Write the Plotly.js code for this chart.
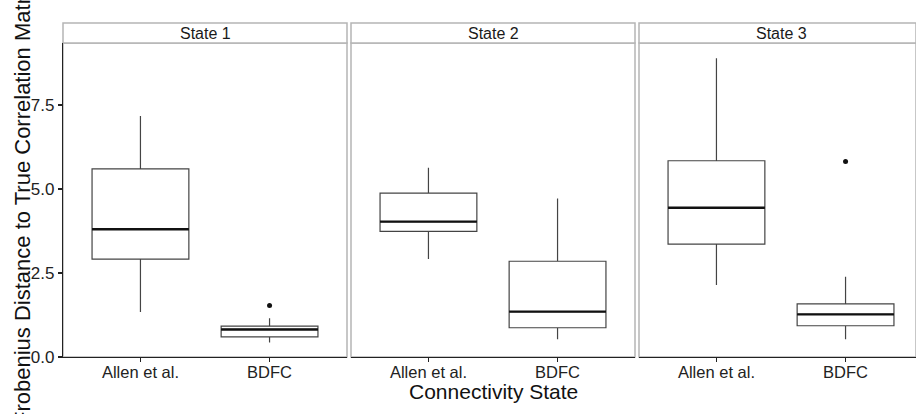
<!DOCTYPE html>
<html>
<head>
<meta charset="utf-8">
<script src="https://cdn.plot.ly/plotly-3.0.1.min.js"></script>
<style>
html,body{margin:0;padding:0;overflow:hidden;background:#fff;}
#chart{width:916px;height:414px;}
</style>
</head>
<body>
<div id="chart"></div>
<script>
// ---- data ----
const categories = ["Allen et al.", "BDFC"];
const states = ["State 1", "State 2", "State 3"];
// each row = one state, columns = categories
const lowerWhisker = [[1.34, 0.43], [2.92, 0.53], [2.14, 0.53]];
const q1Values     = [[2.91, 0.60], [3.74, 0.87], [3.36, 0.93]];
const medianValues = [[3.80, 0.82], [4.03, 1.35], [4.44, 1.27]];
const q3Values     = [[5.60, 0.92], [4.88, 2.85], [5.84, 1.58]];
const upperWhisker = [[7.17, 1.15], [5.63, 4.72], [8.89, 2.39]];
// outliers per state: category index and value
const outlierCategory = [[1], [], [1]];
const outlierValue    = [[1.53], [], [5.82]];
const yTickValues = [0, 2.5, 5, 7.5];
const yTickLabels = ["0.0", "2.5", "5.0", "7.5"];

// ---- geometry helpers ----
const W = 916, H = 414;
const M = {l: 63, r: 0, t: 23, b: 57};
const PW = W - M.l - M.r, PH = H - M.t - M.b;
const xp = px => (px - M.l) / PW;
const yp = py => (H - M.b - py) / PH;

const panelPx = [[63, 347], [351, 635], [639, 916]];
const unitPx = 284 / 2.2;
const boxWidth = 0.75;
const FONT = "Liberation Sans, Arial, sans-serif";

const catPos = categories.map((c, i) => i + 1);
const traces = [];
const layout = {
  width: W, height: H,
  margin: {l: M.l, r: M.r, t: M.t, b: M.b, pad: 0},
  paper_bgcolor: "#ffffff",
  plot_bgcolor: "rgba(0,0,0,0)",
  showlegend: false,
  font: {family: FONT, color: "#222"},
  shapes: [], annotations: [],
  yaxis: {
    domain: [0, yp(43)], range: [0, 9.345], anchor: "x",
    tickvals: yTickValues, ticktext: yTickLabels,
    ticks: "outside", ticklen: 4, tickwidth: 1.1, tickcolor: "#222",
    showgrid: false, zeroline: false,
    showline: true, linecolor: "#222", linewidth: 1.2,
    tickfont: {family: FONT, size: 17, color: "#222"}
  }
};

states.forEach((s, si) => {
  const axId = si === 0 ? "" : String(si + 1);
  const xa = "x" + axId;
  const [p0, p1] = panelPx[si];
  const rangeMax = 0.4 + (p1 - p0) / unitPx;
  layout["xaxis" + axId] = {
    domain: [xp(p0), xp(p1)], range: [0.4, rangeMax], anchor: "y",
    tickvals: catPos, ticktext: categories,
    ticks: "outside", ticklen: 4, tickwidth: 1.1, tickcolor: "#222",
    ticklabelstandoff: -4,
    showgrid: false, zeroline: false,
    showline: true, linecolor: "#222", linewidth: 1.2,
    tickfont: {family: FONT, size: 16.5, color: "#222"}
  };
  traces.push({
    type: "box", xaxis: xa, yaxis: "y",
    x: catPos,
    q1: q1Values[si], median: medianValues[si], q3: q3Values[si],
    lowerfence: lowerWhisker[si], upperfence: upperWhisker[si],
    width: boxWidth, whiskerwidth: 0, boxpoints: false,
    fillcolor: "#ffffff", line: {color: "#444", width: 1.2},
    hoverinfo: "skip"
  });
  // thicker median bars
  const mx = [], my = [];
  catPos.forEach((c, ci) => {
    mx.push(c - boxWidth / 2, c + boxWidth / 2, null);
    my.push(medianValues[si][ci], medianValues[si][ci], null);
  });
  traces.push({
    type: "scatter", mode: "lines", xaxis: xa, yaxis: "y",
    x: mx, y: my, line: {color: "#111", width: 2.4}, hoverinfo: "skip"
  });
  if (outlierValue[si].length) {
    traces.push({
      type: "scatter", mode: "markers", xaxis: xa, yaxis: "y",
      x: outlierCategory[si].map(ci => catPos[ci]), y: outlierValue[si],
      marker: {color: "#111", size: 5}, hoverinfo: "skip"
    });
  }
  // panel border
  layout.shapes.push({
    type: "rect", xref: "paper", yref: "paper", layer: "below",
    x0: xp(p0), x1: xp(p1), y0: 0, y1: yp(43),
    line: {color: "#b5b5b5", width: 1.5}, fillcolor: "rgba(0,0,0,0)"
  });
  // strip
  layout.shapes.push({
    type: "rect", xref: "paper", yref: "paper", layer: "below",
    x0: xp(p0), x1: xp(p1), y0: yp(43), y1: yp(23),
    line: {color: "#b5b5b5", width: 1.5}, fillcolor: "#ffffff"
  });
  layout.annotations.push({
    xref: "paper", yref: "paper",
    x: xp((p0 + p0 + 284) / 2), y: yp(33),
    text: s, showarrow: false, xanchor: "center", yanchor: "middle",
    font: {family: FONT, size: 16, color: "#1a1a1a"}
  });
});

// axis titles
layout.annotations.push({
  xref: "paper", yref: "paper", x: xp(493), y: yp(391),
  text: "Connectivity State", showarrow: false,
  xanchor: "center", yanchor: "middle",
  font: {family: FONT, size: 21, color: "#111"}
});
layout.annotations.push({
  xref: "paper", yref: "paper", x: xp(22), y: yp(203),
  text: "Frobenius Distance to True Correlation Matrix", showarrow: false,
  textangle: -90, xanchor: "center", yanchor: "middle",
  font: {family: FONT, size: 22, color: "#111"}
});

Plotly.newPlot("chart", traces, layout, {staticPlot: true, displayModeBar: false});
</script>
</body>
</html>
